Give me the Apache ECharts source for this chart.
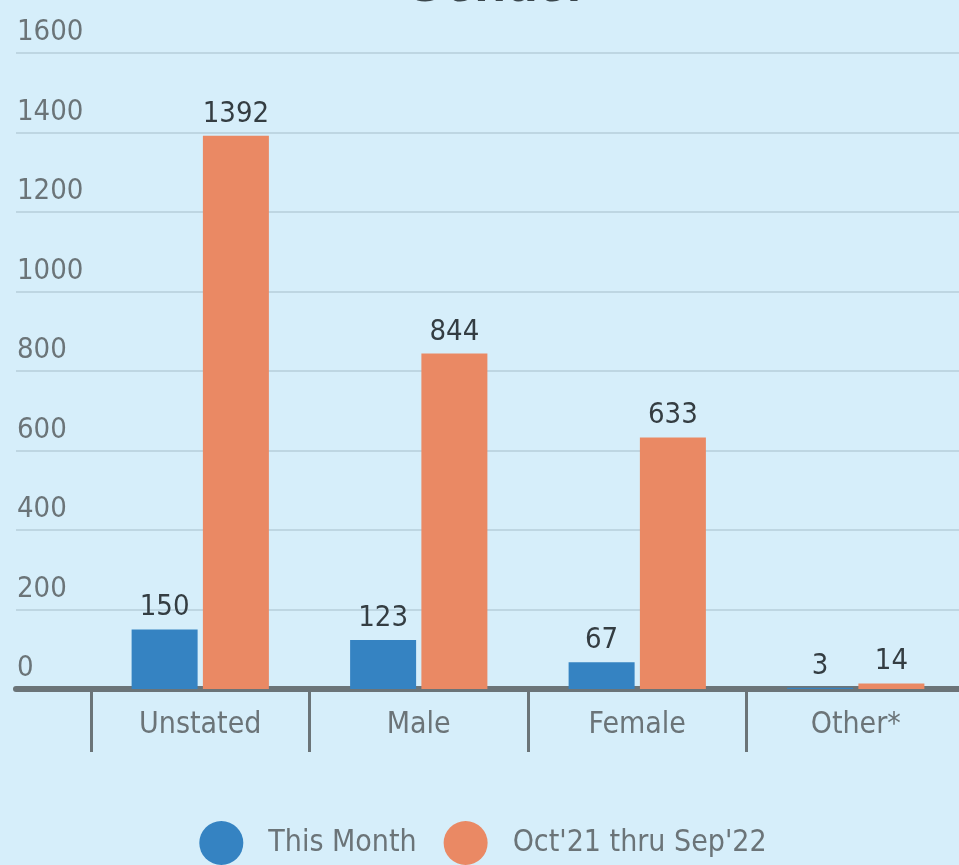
<!DOCTYPE html>
<html>
<head>
<meta charset="utf-8">
<script src="https://cdn.jsdelivr.net/npm/echarts@6/dist/echarts.min.js"></script>
<style>
  html, body { margin: 0; padding: 0; background: #d6eefa; overflow: hidden; }
  #chart { width: 966px; height: 865px; }
</style>
</head>
<body>
<div id="chart"></div>
<script>
  const categories = ['Unstated', 'Male', 'Female', 'Other*']
  const thisMonth = [150, 123, 67, 3]
  const lastYear = [1392, 844, 633, 14]
  const seriesNames = ['This Month', "Oct'21 thru Sep'22"]
  const yTicks = [0, 200, 400, 600, 800, 1000, 1200, 1400, 1600]

  const font = "'DejaVu Sans Condensed', 'Liberation Sans Narrow', Roboto, sans-serif"
  const gray = '#6b7478'
  const dark = '#343d42'

  // chart div is a little wider than the window so the last category runs off the right edge
  let chart = echarts.init(document.getElementById('chart'))
  let option = {
    backgroundColor: '#d6eefa',
    title: {
      text: 'Gender',
      left: 491,
      textAlign: 'center',
      top: -44,
      textStyle: { fontFamily: "'Liberation Sans', sans-serif", fontSize: 52, fontWeight: 'bold', color: '#3a464c' }
    },
    legend: {
      top: 821,
      left: 'center',
      padding: 0,
      icon: 'circle',
      itemWidth: 44,
      itemHeight: 44,
      itemGap: 27,
      data: seriesNames,
      textStyle: { fontFamily: font, fontSize: 30, color: gray, padding: [0, 0, 0, 20] }
    },
    grid: [
      { left: 16, right: 7, top: 53, bottom: 176 },
      { left: 91, right: 1, top: 53, bottom: 176 }
    ],
    xAxis: [
      {
        gridIndex: 0,
        type: 'category',
        data: [''],
        offset: 3,
        axisLine: { lineStyle: { color: gray, width: 6 } },
        axisTick: { show: false },
        axisLabel: { show: false }
      },
      {
        gridIndex: 1,
        type: 'category',
        data: categories,
        offset: 3,
        axisLine: { show: false },
        axisTick: { show: true, length: 63, lineStyle: { color: gray, width: 3 } },
        axisLabel: { fontFamily: font, fontSize: 30, color: gray, margin: 18 }
      }
    ],
    yAxis: [
      {
        gridIndex: 0,
        type: 'value',
        min: yTicks[0],
        max: yTicks[yTicks.length - 1],
        interval: 200,
        axisLine: { show: false },
        axisTick: { show: false },
        splitLine: { lineStyle: { color: '#bed6e2', width: 2 } },
        axisLabel: {
          inside: true,
          margin: 1,
          align: 'left',
          verticalAlign: 'bottom',
          padding: [0, 0, 6, 0],
          formatter: function (v) { return String(v) },
          fontFamily: font,
          fontSize: 29,
          color: gray
        }
      },
      {
        gridIndex: 1,
        type: 'value',
        min: yTicks[0],
        max: yTicks[yTicks.length - 1],
        interval: 200,
        show: false,
        splitLine: { show: false }
      }
    ],
    series: [
      {
        name: seriesNames[0],
        type: 'bar',
        xAxisIndex: 1,
        yAxisIndex: 1,
        data: thisMonth,
        barWidth: 66,
        barGap: '8%',
        itemStyle: { color: '#3583c2' },
        label: { show: true, position: 'top', distance: 7, fontFamily: font, fontSize: 29, color: dark }
      },
      {
        name: seriesNames[1],
        type: 'bar',
        xAxisIndex: 1,
        yAxisIndex: 1,
        data: lastYear,
        barWidth: 66,
        barGap: '8%',
        itemStyle: { color: '#ea8964' },
        label: { show: true, position: 'top', distance: 7, fontFamily: font, fontSize: 29, color: dark }
      }
    ]
  }
  chart.setOption(option)
</script>
</body>
</html>
